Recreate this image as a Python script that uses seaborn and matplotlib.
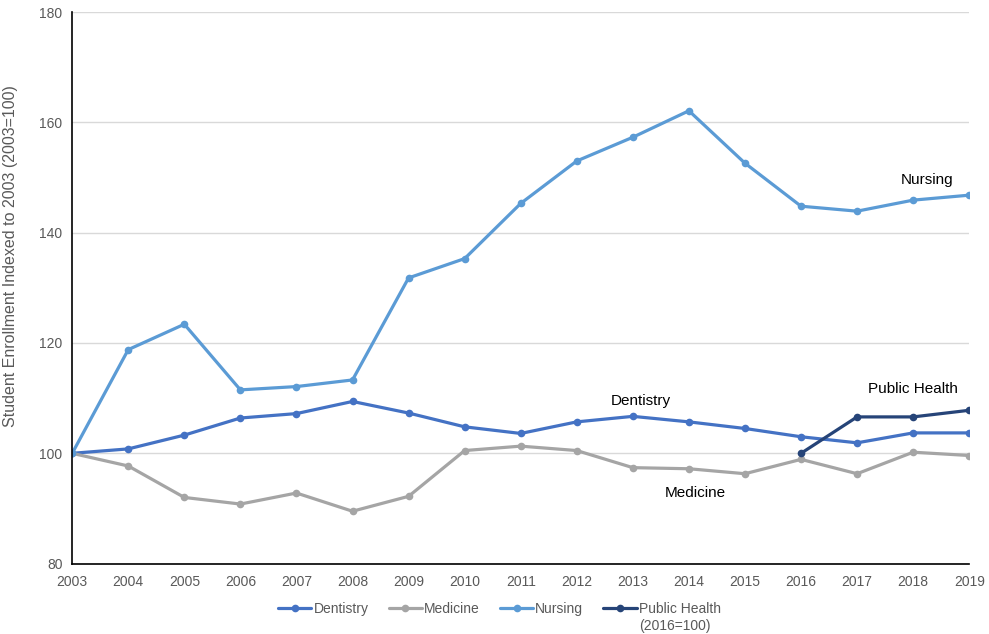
import matplotlib
matplotlib.use("Agg")
import matplotlib.pyplot as plt
from matplotlib.lines import Line2D
import numpy as np
import pandas as pd
import seaborn as sns

years = list(range(2003, 2020))
dentistry = [100.0, 100.8, 103.3, 106.4, 107.2, 109.4, 107.3, 104.8, 103.6, 105.7,
             106.7, 105.7, 104.5, 103.0, 101.9, 103.7, 103.7]
medicine = [100.0, 97.7, 92.0, 90.8, 92.8, 89.5, 92.2, 100.5, 101.3, 100.5,
            97.4, 97.2, 96.3, 98.9, 96.3, 100.2, 99.6]
nursing = [100.0, 118.8, 123.4, 111.5, 112.1, 113.3, 131.8, 135.3, 145.3, 153.0,
           157.3, 162.1, 152.6, 144.8, 143.9, 145.9, 146.8]
public_health = [np.nan] * 13 + [100.0, 106.6, 106.6, 107.8]

series_names = ["Dentistry", "Medicine", "Nursing", "Public Health"]
colors = ["#4472C4", "#A5A5A5", "#5B9BD5", "#264478"]
public_health_note = "(2016=100)"

df = pd.DataFrame({
    "Year": years * 4,
    "Index": dentistry + medicine + nursing + public_health,
    "Program": sum([[n] * len(years) for n in series_names], []),
}).dropna()

sns.set_theme(style="white")
plt.rcParams["font.family"] = ["Liberation Sans", "DejaVu Sans"]

fig = plt.figure(figsize=(9.89, 6.34), dpi=100)
ax = fig.add_axes([0.073, 0.111, 0.907, 0.870])

palette = dict(zip(series_names, colors))
LW, MS = 2.3, 5.5
sns.lineplot(data=df, x="Year", y="Index", hue="Program", palette=palette,
             marker="o", markersize=MS, markeredgewidth=0, linewidth=LW,
             legend=False, ax=ax)

ax.set_xlim(2003, 2019)
ax.set_ylim(80, 180)
ax.set_xticks(years)
ax.set_yticks([80, 100, 120, 140, 160, 180])
ax.tick_params(axis="both", length=0, labelsize=10, labelcolor="#595959")
ax.tick_params(axis="x", pad=8)
ax.tick_params(axis="y", pad=7)
ax.yaxis.grid(True, color="#D9D9D9", linewidth=1)
ax.xaxis.grid(False)
ax.set_axisbelow(True)
for side in ["top", "right"]:
    ax.spines[side].set_visible(False)
for side in ["left", "bottom"]:
    ax.spines[side].set_color("black")
    ax.spines[side].set_linewidth(1.2)

ax.set_xlabel("")
ax.set_ylabel("Student Enrollment Indexed to 2003 (2003=100)", fontsize=11.5,
              color="#595959")
ax.yaxis.set_label_coords(-0.060, 0.557)

# Series labels placed next to their lines
label_kw = dict(fontsize=11, color="black", ha="center", va="center")
ax.text(2018.25, 149.5, "Nursing", **label_kw)
ax.text(2013.15, 109.4, "Dentistry", **label_kw)
ax.text(2014.12, 92.8, "Medicine", **label_kw)
ax.text(2018.0, 111.6, "Public Health", **label_kw)

handles = [Line2D([0], [0], color=c, linewidth=LW, marker="o", markersize=MS,
                  markeredgewidth=0) for c in colors]
leg = fig.legend(handles, series_names, loc="center", bbox_to_anchor=(0.505, 0.0394),
                 ncol=4, frameon=False, fontsize=10, handlelength=2.4, handletextpad=0.15,
                 columnspacing=1.45, labelcolor="#595959")

# Second line of the Public Health legend entry
fig.canvas.draw()
renderer = fig.canvas.get_renderer()
bb = leg.get_texts()[3].get_window_extent(renderer)
fig.text(bb.x0 / fig.bbox.width, (bb.y0 - 3) / fig.bbox.height, public_health_note,
         fontsize=10, color="#595959", ha="left", va="top")

fig.savefig("out.png", dpi=100)
